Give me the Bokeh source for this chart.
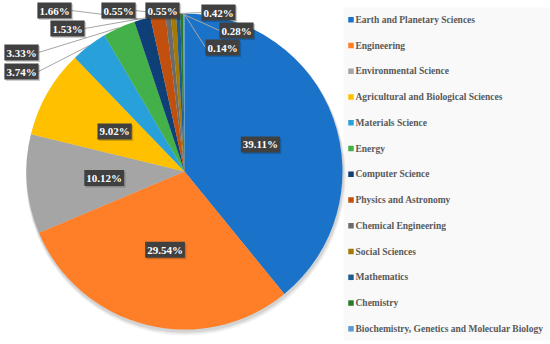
import math
from bokeh.plotting import figure
from bokeh.models import Range1d, ColumnDataSource
from bokeh.core.properties import value
from bokeh.embed import file_html
from bokeh.resources import INLINE

# ---- data ----
categories = [
    "Earth and Planetary Sciences", "Engineering", "Environmental Science",
    "Agricultural and Biological Sciences", "Materials Science", "Energy",
    "Computer Science", "Physics and Astronomy", "Chemical Engineering",
    "Social Sciences", "Mathematics", "Chemistry",
    "Biochemistry, Genetics and Molecular Biology",
]
shares = [39.11, 29.54, 10.12, 9.02, 3.74, 3.33, 1.66, 1.53, 0.55, 0.55, 0.42, 0.28, 0.14]
colors = ["#1a73c8", "#fe7f27", "#a5a5a5", "#ffc000", "#28a0da", "#44b04a",
          "#0f3f77", "#c1500f", "#6b6b6b", "#a47a05", "#1f5d91", "#2a7a2a", "#5b9bd5"]

# ---- layout (image coords; data y = 344 - img_y) ----
W, H = 550, 344
CX, CY, R = 184, 344 - 171, 158
FONT = value("'Liberation Serif', 'Times New Roman', serif")
# outside label box centres for the small slices (index -> image x, y)
outside = {4: (21, 71), 5: (21, 52), 6: (54, 10), 7: (67, 28), 8: (118, 10),
           9: (162, 10), 10: (218, 12), 11: (236, 30), 12: (222, 47)}

p = figure(width=W, height=H, output_backend="svg", toolbar_location=None,
           x_range=Range1d(0, W), y_range=Range1d(0, H),
           min_border=0, outline_line_color=None)
p.axis.visible = False
p.grid.visible = False
p.background_fill_color = "white"
p.border_fill_color = "white"

# legend background
p.quad(left=343, right=549, bottom=344 - 340, top=344 - 7,
       fill_color="#f9f9f9", line_color=None)

# pie shadow
for off, a in [(4, 0.05), (3, 0.06), (2, 0.07)]:
    p.circle(x=CX + off * 0.3, y=CY - off, radius=R + off * 0.5,
             fill_color="black", fill_alpha=a, line_color=None)

total = sum(shares)
starts, ends, mids = [], [], []
cum = 0.0
for v in shares:
    a0 = math.pi / 2 - 2 * math.pi * cum / total
    cum += v
    a1 = math.pi / 2 - 2 * math.pi * cum / total
    starts.append(a0)
    ends.append(a1)
    mids.append((a0 + a1) / 2)

src = ColumnDataSource(dict(start=starts, end=ends, color=colors))
p.wedge(x=CX, y=CY, radius=R, start_angle="start", end_angle="end",
        direction="clock", fill_color="color", line_color=None, source=src)

# data labels
lx, ly, lt = [], [], []
line_xs, line_ys = [], []
for i, v in enumerate(shares):
    txt = f"{v:.2f}%"
    if i in outside:
        bx, by = outside[i]
        by = 344 - by
        ex = CX + R * math.cos(mids[i])
        ey = CY + R * math.sin(mids[i])
        sx = bx + 17 if bx < CX else bx - 17
        line_xs.append([sx, ex])
        line_ys.append([by, ey])
        lx.append(bx); ly.append(by); lt.append(txt)
    else:
        lx.append(CX + 0.51 * R * math.cos(mids[i]))
        ly.append(CY + 0.51 * R * math.sin(mids[i]))
        lt.append(txt)

p.multi_line(xs=line_xs, ys=line_ys, line_color="#a6a6a6", line_width=1)

# label shadows
p.text(x=[x + 1.5 for x in lx], y=[y - 1.5 for y in ly], text=lt,
       text_font=FONT, text_font_style="bold",
       text_font_size="11px", text_align="center", text_baseline="middle",
       text_color="#00000000", background_fill_color="black",
       background_fill_alpha=0.18, padding=2)
p.text(x=lx, y=ly, text=lt, text_font=FONT,
       text_font_style="bold", text_font_size="11px", text_align="center",
       text_baseline="middle", text_color="white",
       background_fill_color="#404040", padding=2)

# legend
leg_y = [344 - (19.3 + 25.75 * i) for i in range(len(categories))]
p.scatter(x=[350.5] * len(categories), y=leg_y, marker="square", size=5.5,
          fill_color=colors, line_color=None)
p.text(x=[355] * len(categories), y=leg_y, text=categories,
       text_font=FONT, text_font_style="bold",
       text_font_size="9.5px", text_align="left", text_baseline="middle",
       text_color="#595959")

open("out.html", "w").write(file_html(p, INLINE))
